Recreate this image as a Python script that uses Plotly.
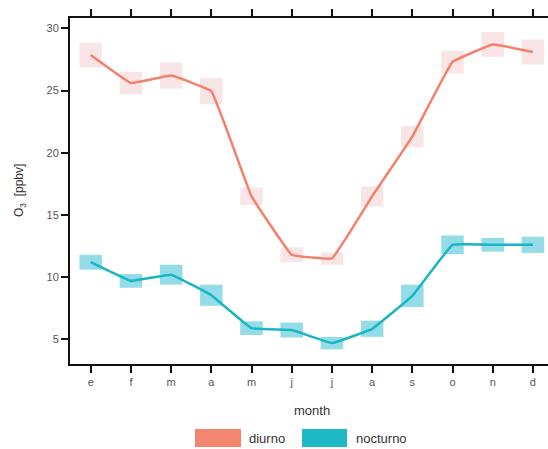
import plotly.graph_objects as go

months = ["e", "f", "m", "a", "m", "j", "j", "a", "s", "o", "n", "d"]
pos = list(range(1, 13))
diurno = [27.85, 25.6, 26.2, 24.95, 16.5, 11.8, 11.5, 16.5, 21.3, 27.3, 28.7, 28.1]
diurno_h = [2.0, 1.8, 2.1, 2.1, 1.4, 1.2, 1.0, 1.6, 1.7, 1.8, 2.0, 2.0]
nocturno = [11.2, 9.7, 10.2, 8.55, 5.9, 5.75, 4.7, 5.85, 8.5, 12.6, 12.6, 12.6]
nocturno_h = [1.2, 1.1, 1.6, 1.7, 1.1, 1.2, 1.0, 1.3, 1.8, 1.5, 1.1, 1.3]

C_D = "#f4806c"
C_N = "#17b6c2"

fig = go.Figure()
for vals, hs, fillc in [(diurno, diurno_h, "rgba(235,160,160,0.28)"),
                        (nocturno, nocturno_h, "rgba(40,185,210,0.5)")]:
    fig.add_trace(go.Bar(x=pos, y=hs, base=[v - h / 2 for v, h in zip(vals, hs)],
                         width=0.56, marker=dict(color=fillc, line=dict(width=0)),
                         showlegend=False, hoverinfo="skip"))
fig.add_trace(go.Scatter(x=pos, y=diurno, mode="lines", name="diurno",
                         line=dict(color=C_D, width=2.5, shape="spline", smoothing=0.2),
                         showlegend=False))
fig.add_trace(go.Scatter(x=pos, y=nocturno, mode="lines", name="nocturno",
                         line=dict(color=C_N, width=2.5, shape="spline", smoothing=0.2),
                         showlegend=False))

L, T, B, W, H = 70, 18, 85, 548, 449
pw, ph = W - L, H - T - B
def px(x):
    return (x - L) / pw
def py(y):
    return (H - B - y) / ph

shapes = [
    dict(type="rect", xref="paper", yref="paper", x0=px(195), x1=px(241), y0=py(447), y1=py(429),
         fillcolor="#f2866f", line=dict(width=0)),
    dict(type="rect", xref="paper", yref="paper", x0=px(302), x1=px(347), y0=py(447), y1=py(429),
         fillcolor="#1dbac6", line=dict(width=0)),
]
font = "Liberation Sans, Arial, sans-serif"
annotations = [
    dict(text="diurno", xref="paper", yref="paper", x=px(247), y=py(438), xanchor="left",
         yanchor="middle", showarrow=False, font=dict(size=13, color="#333", family=font)),
    dict(text="nocturno", xref="paper", yref="paper", x=px(354), y=py(438), xanchor="left",
         yanchor="middle", showarrow=False, font=dict(size=13, color="#333", family=font)),
    dict(text="month", xref="x", yref="paper", x=6.5, y=py(410), xanchor="center",
         yanchor="middle", showarrow=False, font=dict(size=13, color="#333", family=font)),
    dict(text="O<sub>3</sub>  [ppbv]", xref="paper", yref="paper", x=px(20), y=0.5,
         xanchor="center", yanchor="middle", textangle=-90, showarrow=False,
         font=dict(size=12, color="#333", family=font)),
]

fig.update_layout(
    width=W, height=H, margin=dict(l=L, r=0, t=T, b=B),
    paper_bgcolor="white", plot_bgcolor="white", barmode="overlay",
    shapes=shapes, annotations=annotations, showlegend=False,
    font=dict(family=font, color="#555"),
    xaxis=dict(range=[0.485, 12.375], tickvals=pos, ticktext=months, showgrid=False,
               zeroline=False, showline=True, linecolor="#111", linewidth=2,
               mirror="ticks", ticks="outside", ticklen=7, tickwidth=1.5, tickcolor="#111",
               tickfont=dict(size=11, color="#555")),
    yaxis=dict(range=[3.02, 30.83], tickvals=[5, 10, 15, 20, 25, 30], showgrid=False,
               zeroline=False, showline=True, linecolor="#111", linewidth=2,
               ticks="outside", ticklen=7, tickwidth=1.5, tickcolor="#111",
               tickfont=dict(size=11, color="#555")),
)

fig.write_html("out.html")
